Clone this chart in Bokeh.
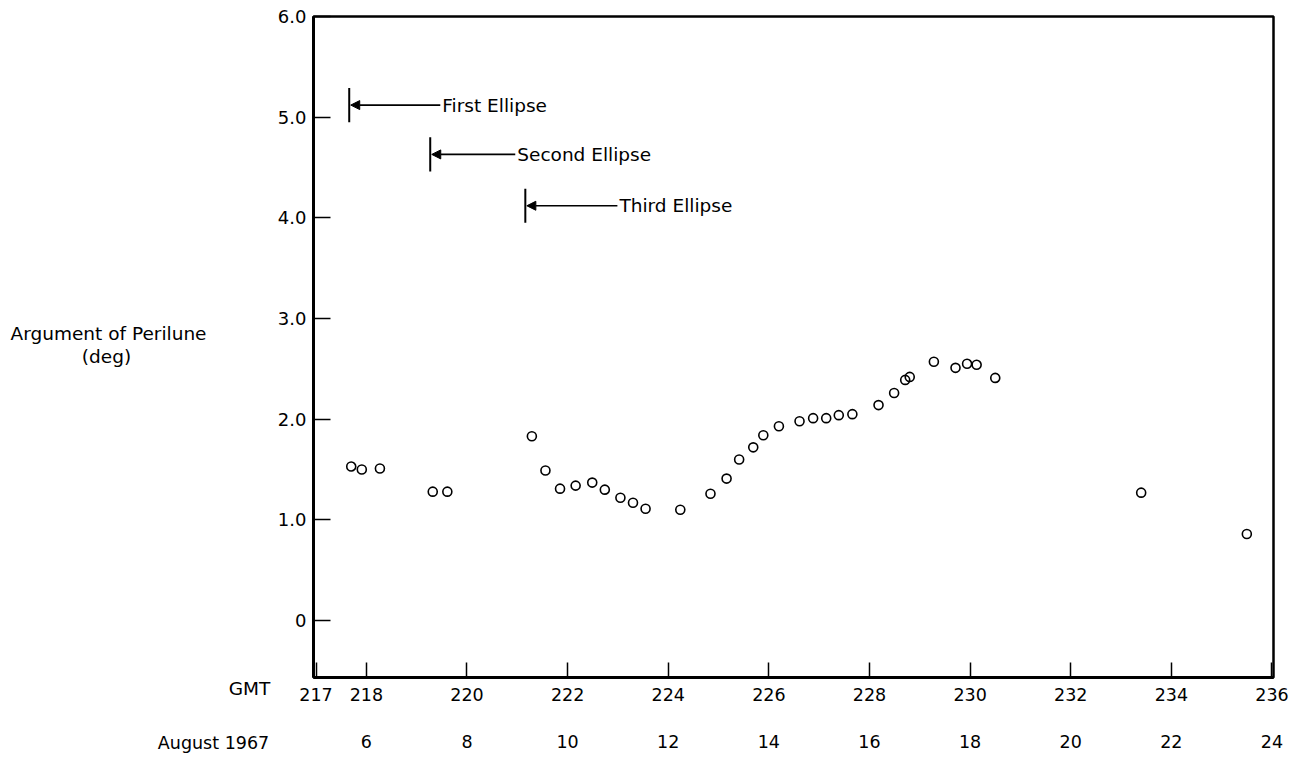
from bokeh.plotting import figure
from bokeh.layouts import row
from bokeh.models import (Range1d, LinearAxis, FixedTicker, Label, Arrow, NormalHead,
                          ColumnDataSource)
from bokeh.core.properties import value
from bokeh.embed import file_html
from bokeh.resources import INLINE

FONT = "DejaVu Sans"

# ---- data ----
gmt_day = [217.70, 217.91, 218.27, 219.32, 219.61, 221.29, 221.56, 221.85, 222.16,
           222.49, 222.74, 223.05, 223.30, 223.55, 224.24, 224.84, 225.16, 225.41,
           225.69, 225.89, 226.20, 226.61, 226.88, 227.14, 227.39, 227.66, 228.18,
           228.49, 228.71, 228.80, 229.28, 229.71, 229.94, 230.13, 230.50, 233.40,
           235.50]
arg_perilune = [1.53, 1.50, 1.51, 1.28, 1.28, 1.83, 1.49, 1.31, 1.34,
                1.37, 1.30, 1.22, 1.17, 1.11, 1.10, 1.26, 1.41, 1.60,
                1.72, 1.84, 1.93, 1.98, 2.01, 2.01, 2.04, 2.05, 2.14,
                2.26, 2.39, 2.42, 2.57, 2.51, 2.55, 2.54, 2.41, 1.27,
                0.86]

y_ticks = [0, 1, 2, 3, 4, 5, 6]
y_tick_labels = ["0", "1.0", "2.0", "3.0", "4.0", "5.0", "6.0"]
gmt_ticks = [217, 218, 220, 222, 224, 226, 228, 230, 232, 234, 236]
date_ticks = [218, 220, 222, 224, 226, 228, 230, 232, 234, 236]
date_labels = ["6", "8", "10", "12", "14", "16", "18", "20", "22", "24"]

ellipse_names = ["First Ellipse", "Second Ellipse", "Third Ellipse"]
ellipse_start = [217.66, 219.27, 221.16]
ellipse_level = [5.12, 4.63, 4.12]
ellipse_text_x = [219.47, 220.96, 222.99]

y_title = ["Argument of Perilune", "(deg)"]
row_titles = ["GMT", "August 1967"]

H = 755
LEFT_W = 274

# ---- main figure ----
p = figure(x_range=Range1d(216.95, 236.03), y_range=Range1d(-0.566, 6.0),
           frame_width=960, frame_height=661,
           min_border_left=311 - LEFT_W, min_border_right=20, min_border_top=16,
           min_border_bottom=H - 16 - 661,
           x_axis_location=None, y_axis_location=None,
           output_backend="svg", toolbar_location=None, background_fill_color="white")
p.xgrid.visible = False
p.ygrid.visible = False
p.outline_line_color = "black"
p.outline_line_width = 2.5
p.outline_line_alpha = 1.0


def style_labels(ax, size, standoff):
    ax.major_label_standoff = standoff
    ax.major_label_text_font = FONT
    ax.major_label_text_font_size = size
    ax.major_label_text_color = "black"
    ax.minor_tick_line_color = None


yax = LinearAxis(ticker=FixedTicker(ticks=y_ticks),
                 major_label_overrides={t: l for t, l in zip(y_ticks, y_tick_labels)})
yax.axis_line_width = 3
yax.major_tick_in = 17
yax.major_tick_out = 0
yax.major_tick_line_width = 1.5
style_labels(yax, "18px", 7)
p.add_layout(yax, "left")

xax = LinearAxis(ticker=FixedTicker(ticks=gmt_ticks))
xax.axis_line_width = 3
xax.major_tick_in = 15
xax.major_tick_out = 0
xax.major_tick_line_width = 1.5
style_labels(xax, "17.5px", 10)
p.add_layout(xax, "below")

dax = LinearAxis(ticker=FixedTicker(ticks=date_ticks),
                 major_label_overrides={t: l for t, l in zip(date_ticks, date_labels)})
dax.axis_line_color = None
dax.major_tick_line_color = None
style_labels(dax, "17.5px", 25)
p.add_layout(dax, "below")

# data points
p.scatter(gmt_day, arg_perilune, marker="circle", size=9, fill_alpha=0,
          line_color="black", line_width=1.6)

# ellipse annotations
src = ColumnDataSource(dict(x=ellipse_start, y0=[v - 0.17 for v in ellipse_level],
                            y1=[v + 0.17 for v in ellipse_level]))
p.segment(x0="x", y0="y0", x1="x", y1="y1", source=src, line_color="black", line_width=2)
for name, xs, yl, xt in zip(ellipse_names, ellipse_start, ellipse_level, ellipse_text_x):
    p.add_layout(Arrow(x_start=xt, y_start=yl, x_end=xs + 0.03, y_end=yl,
                       line_width=1.6, line_color="black",
                       end=NormalHead(size=9, fill_color="black", line_color="black")))
    p.add_layout(Label(x=xt, y=yl, x_offset=2, text=name, text_align="left",
                       text_baseline="middle", text_font=FONT, text_font_size="18.5px",
                       text_color="black"))

# ---- side panel with the axis / row titles (shares the y scale of the main plot) ----
side = figure(width=LEFT_W, height=H, x_range=Range1d(0, LEFT_W), y_range=p.y_range,
              min_border_left=0, min_border_right=0, min_border_top=16,
              min_border_bottom=H - 16 - 661,
              x_axis_location=None, y_axis_location=None,
              output_backend="svg", toolbar_location=None)
side.outline_line_color = None
side.xgrid.visible = False
side.ygrid.visible = False
side.text(x=[108, 106], y=[2.77, 2.54], text=y_title, text_align="center",
          text_baseline="middle", text_font=value(FONT), text_font_size="18.5px",
          text_color="black")

gax = LinearAxis(ticker=FixedTicker(ticks=[249]), major_label_overrides={249: row_titles[0]})
gax.axis_line_color = None
gax.major_tick_line_color = None
style_labels(gax, "18.5px", 10)
side.add_layout(gax, "below")

aax = LinearAxis(ticker=FixedTicker(ticks=[213]), major_label_overrides={213: row_titles[1]})
aax.axis_line_color = None
aax.major_tick_line_color = None
style_labels(aax, "17.5px", 25)
side.add_layout(aax, "below")

layout = row(side, p, spacing=0)
open("out.html", "w").write(file_html(layout, INLINE))
